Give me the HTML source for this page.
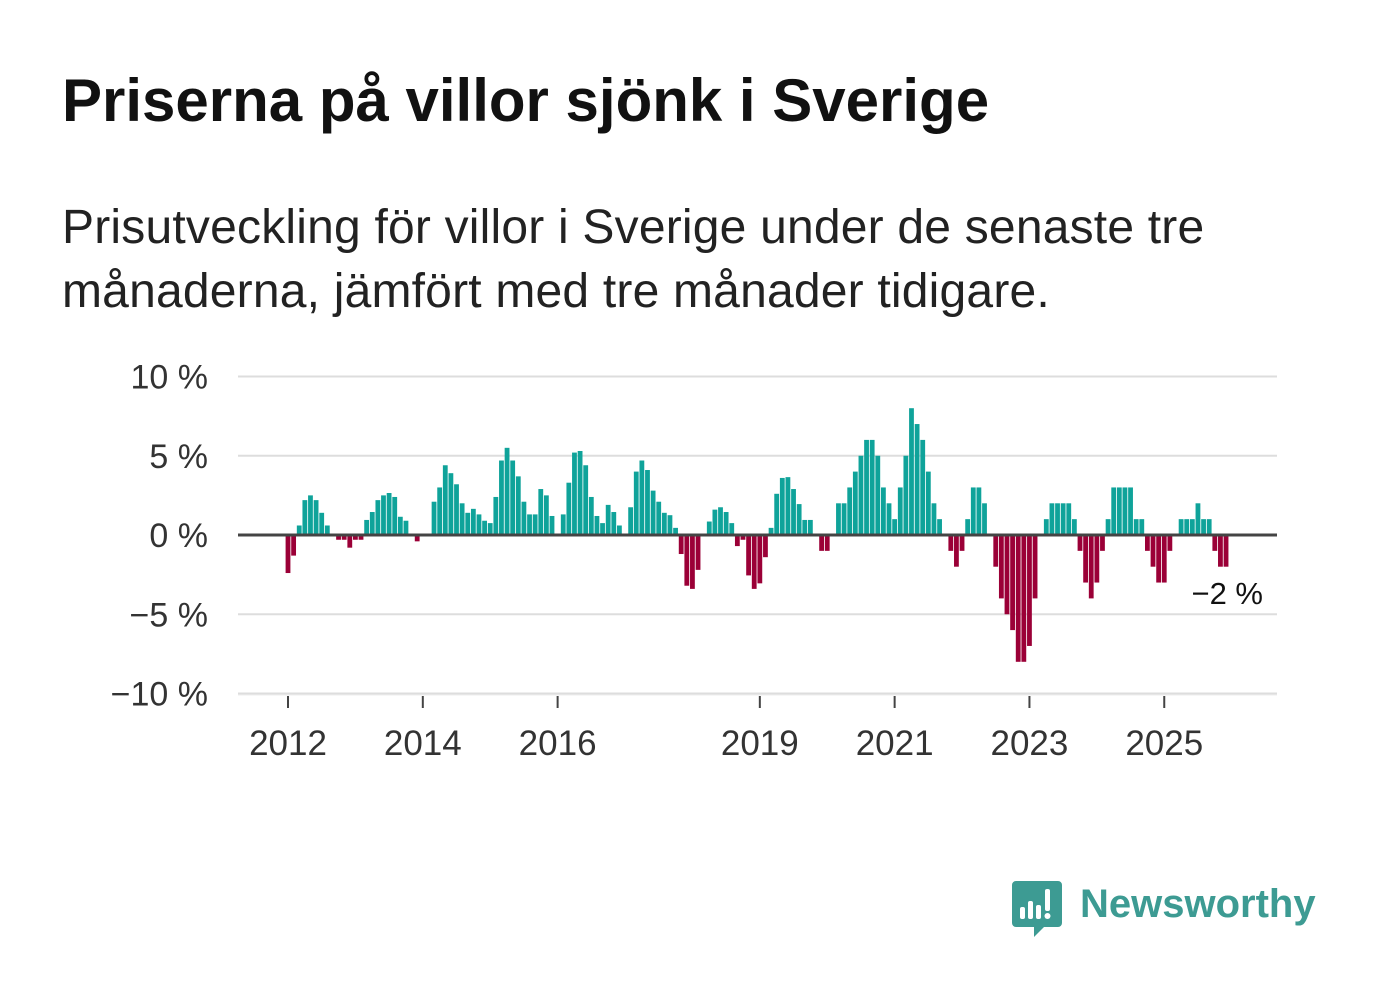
<!DOCTYPE html>
<html><head><meta charset="utf-8">
<style>
body{margin:0;background:#fff;width:1382px;height:999px;overflow:hidden;font-family:"Liberation Sans",sans-serif;}
#title{position:absolute;left:62px;top:71px;font-size:60px;line-height:60px;font-weight:bold;color:#111;margin:0;white-space:nowrap}
#sub{position:absolute;left:62px;top:196px;font-size:48px;line-height:64px;color:#222;margin:0;width:1300px;white-space:nowrap;letter-spacing:0.2px}
svg{position:absolute;left:0;top:0}
</style></head><body>
<h1 id="title">Priserna på villor sjönk i Sverige</h1>
<p id="sub">Prisutveckling för villor i Sverige under de senaste tre<br>månaderna, jämfört med tre månader tidigare.</p>
<svg id="chart" width="1382" height="999"></svg>
<script>
const values = [-2.4,-1.3,0.6,2.2,2.5,2.2,1.4,0.6,0,-0.3,-0.3,-0.8,
-0.3,-0.3,0.95,1.45,2.2,2.5,2.65,2.4,1.15,0.9,0,-0.4,
0,0,2.1,3.0,4.4,3.9,3.2,2.0,1.4,1.65,1.3,0.9,
0.75,2.4,4.7,5.5,4.7,3.7,2.1,1.3,1.3,2.9,2.5,1.2,
0,1.3,3.3,5.2,5.3,4.4,2.4,1.2,0.75,1.9,1.45,0.6,
0,1.75,4.0,4.7,4.1,2.8,2.1,1.4,1.25,0.45,-1.2,-3.2,
-3.4,-2.2,0,0.85,1.6,1.75,1.45,0.75,-0.7,-0.3,-2.55,-3.4,
-3.05,-1.4,0.45,2.6,3.6,3.65,2.9,1.95,0.95,0.95,0,-1,
-1,0,2,2,3,4,5,6,6,5,3,2,
1,3,5,8,7,6,4,2,1,0,-1,-2,
-1,1,3,3,2,0,-2,-4,-5,-6,-8,-8,
-7,-4,0,1,2,2,2,2,1,-1,-3,-4,
-3,-1,1,3,3,3,3,1,1,-1,-2,-3,
-3,-1,0,1,1,1,2,1,1,-1,-2,-2];
const yTicks = [10,5,0,-5,-10];
const yTickLabels = ["10 %","5 %","0 %","\u22125 %","\u221210 %"];
const xTickIdx = [0,24,48,84,108,132,156];
const xTickLabels = ["2012","2014","2016","2019","2021","2023","2025"];
const lastLabel = "\u22122 %";

const svg = document.getElementById('chart');
const NS = 'http://www.w3.org/2000/svg';
const x = i => 288 + i*5.617;
const y = v => 535 - v*15.85;
function mk(tag, attrs){const e=document.createElementNS(NS,tag);for(const k in attrs)e.setAttribute(k,attrs[k]);svg.appendChild(e);return e;}

yTicks.forEach((t,i)=>{
  if(t!==0){
    const l=mk('line',{x1:238,x2:1277,y1:y(t),y2:y(t),stroke:'#dddddd','stroke-width':2});
    
    
  }
  const tx=mk('text',{x:208,y:y(t)+12,'text-anchor':'end','font-size':34,fill:'#333','font-family':'Liberation Sans, sans-serif'});
  tx.textContent=yTickLabels[i];
  
  
});
values.forEach((v,i)=>{
  if(v===0)return;
  const top=v>0?y(v):y(0), h=Math.abs(y(v)-y(0));
  const r=mk('rect',{x:x(i)-2.4,y:top,width:4.8,height:h,fill:v>0?'#0fa39a':'#9b0037'});
  
  
});
const z=mk('line',{x1:238,x2:1277,y1:y(0),y2:y(0),stroke:'#444','stroke-width':3});


xTickIdx.forEach((idx,i)=>{
  const t=mk('line',{x1:x(idx),x2:x(idx),y1:696,y2:708,stroke:'#444','stroke-width':2});
  
  
  const tx=mk('text',{x:x(idx),y:755,'text-anchor':'middle','font-size':35,fill:'#333','font-family':'Liberation Sans, sans-serif'});
  tx.textContent=xTickLabels[i];
  
  
});
const bl=mk('line',{x1:238,x2:1277,y1:695,y2:695,stroke:'#eeeeee','stroke-width':1});


const ll=mk('text',{x:1263,y:604,'text-anchor':'end','font-size':31,fill:'#111','font-family':'Liberation Sans, sans-serif'});
ll.textContent=lastLabel;


</script>
<svg width="1382" height="999" style="pointer-events:none">
  <path d="M1016 881 h42 a4 4 0 0 1 4 4 v38 a4 4 0 0 1 -4 4 h-14 l-10 10 v-10 h-18 a4 4 0 0 1 -4 -4 v-38 a4 4 0 0 1 4 -4z" fill="#3d9b93"/>
  <rect x="1020" y="907" width="5" height="12" rx="2" fill="#fff"/>
  <rect x="1028" y="901" width="5" height="18" rx="2" fill="#fff"/>
  <rect x="1036" y="905" width="5" height="14" rx="2" fill="#fff"/>
  <rect x="1045" y="889" width="5" height="22" rx="2" fill="#fff"/>
  <circle cx="1047.5" cy="916" r="3" fill="#fff"/>
  <text x="1080" y="917" font-size="40" font-weight="bold" fill="#3d9b93" font-family="Liberation Sans, sans-serif">Newsworthy</text>
</svg>
</body></html>
